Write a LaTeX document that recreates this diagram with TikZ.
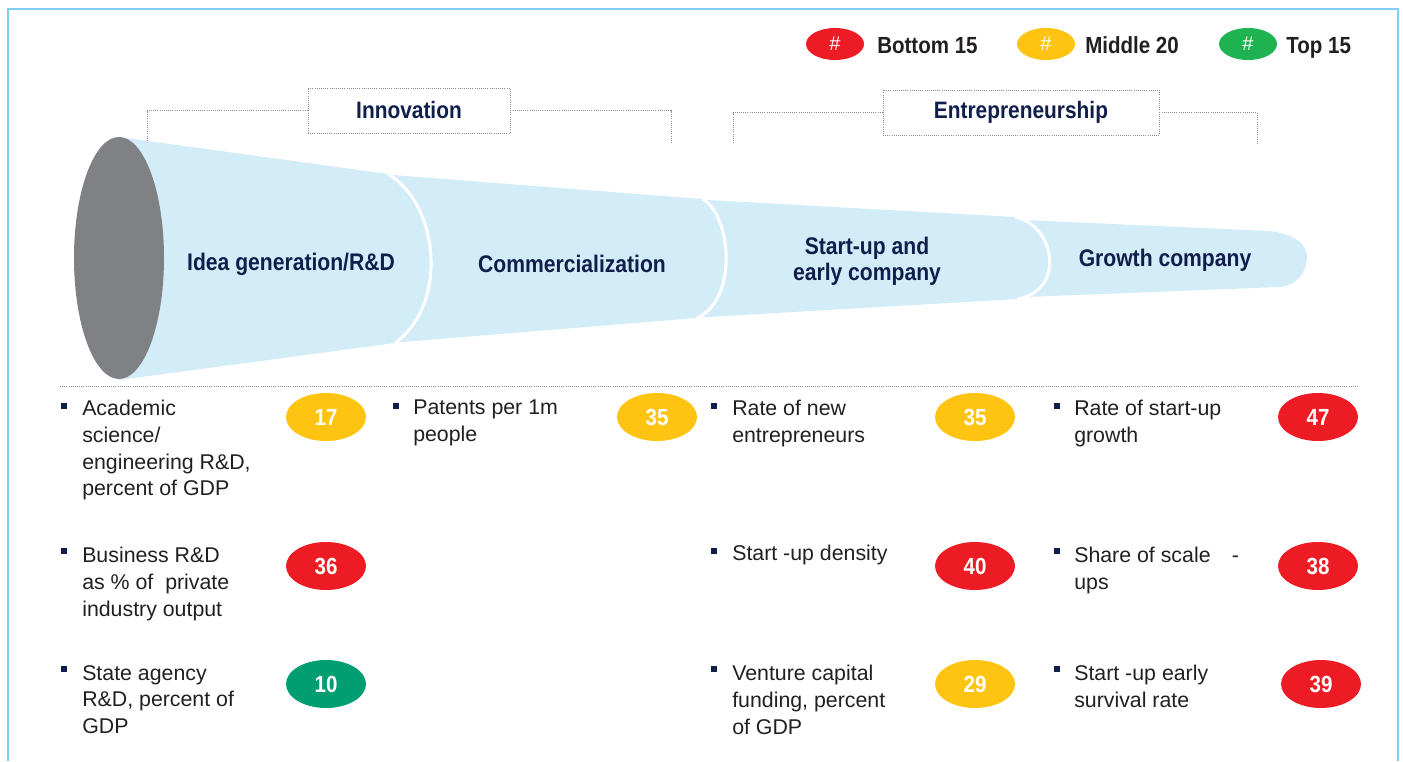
\documentclass[tikz,border=0pt]{standalone}
\usepackage{fontspec}
\setmainfont{Liberation Sans}
\newfontfamily\headfont[FakeStretch=0.88]{Liberation Sans}
\usetikzlibrary{shapes.geometric}

\definecolor{navy}{RGB}{16,30,75}
\definecolor{bodygray}{RGB}{35,31,32}
\definecolor{funnelblue}{RGB}{210,236,248}
\definecolor{framblue}{RGB}{128,207,240}
\definecolor{capgray}{RGB}{128,129,133}
\definecolor{rankred}{RGB}{237,28,36}
\definecolor{rankyellow}{RGB}{255,196,18}
\definecolor{rankgreen}{RGB}{30,178,80}
\definecolor{rankteal}{RGB}{0,158,112}

\tikzset{
  funnel/.style={fill=funnelblue},
  seam/.style={draw=white, line width=2.25pt},
  bracket/.style={draw=black!45, densely dotted, line width=0.6pt},
  headbox/.style={bracket, minimum height=33.75pt, inner sep=0pt, text=navy,
    font=\headfont\bfseries\fontsize{17.8}{20}\selectfont},
  stage/.style={inner sep=0pt, align=center, text=navy,
    font=\headfont\bfseries\fontsize{18}{19.5}\selectfont},
  item/.style={anchor=north west, inner sep=0pt, align=left, text=bodygray,
    font=\fontsize{16}{20}\selectfont},
  bullet/.style={fill=navy, minimum size=5pt, inner sep=0pt},
  rank/.style={ellipse, minimum width=60pt, minimum height=36pt, inner sep=0pt,
    text=white, font=\headfont\bfseries\fontsize{17.5}{20}\selectfont},
  key/.style={ellipse, minimum width=43.5pt, minimum height=24pt, inner sep=0pt,
    text=white, font=\fontsize{15}{18}\selectfont},
  keytext/.style={anchor=base west, inner sep=0pt, text=bodygray,
    font=\headfont\bfseries\fontsize{17.5}{20}\selectfont}
}

\begin{document}
\begin{tikzpicture}[x=0.75pt,y=0.75pt,yscale=-1,xscale=1]
\useasboundingbox (0,0) rectangle (1403,761);

%Frame
\draw [draw=framblue, line width=1.5pt] (8,761) -- (8,9) -- (1398,9) -- (1398,761);

%Legend
\node [key, fill=rankred] (kred) at (835,44) {\#};
\node [keytext] (tred) at (877,53) {Bottom 15};
\node [key, fill=rankyellow] (kyel) at (1046,44) {\#};
\node [keytext] (tyel) at (1085,53) {Middle 20};
\node [key, fill=rankgreen] (kgrn) at (1248,44) {\#};
\node [keytext] (tgrn) at (1286,53) {Top 15};

%Brackets
\node [headbox, minimum width=151.5pt] (innov) at (409,110.5) {Innovation};
\draw [bracket] (innov.west) -- (147,110.5) -- (147,140);
\draw [bracket] (innov.east) -- (671,110.5) -- (671,143);
\node [headbox, minimum width=207pt] (entre) at (1021,112.5) {Entrepreneurship};
\draw [bracket] (entre.west) -- (733,112.5) -- (733,143);
\draw [bracket] (entre.east) -- (1257,112.5) -- (1257,143);

%Funnel segments, back to front
\fill [funnel] (1000,219) -- (1270,231) .. controls (1296,234) and (1308,246) .. (1307,258) .. controls (1306,272) and (1298,285) .. (1280,287) -- (1000,298) -- cycle;
\fill [funnel] (690,199) -- (1015,217) .. controls (1055,225) and (1066,290) .. (1018,299) -- (690,318) -- cycle;
\fill [funnel] (380,174) -- (702,199) .. controls (730,212) and (740,298) .. (697,318) -- (390,343) -- cycle;
\fill [funnel] (119,137) -- (388,174) .. controls (440,205) and (448,305) .. (395,343) -- (119,380) -- cycle;
\draw [seam] (1015,217) .. controls (1055,225) and (1066,290) .. (1018,299);
\draw [seam] (702,199) .. controls (730,212) and (740,298) .. (697,318);
\draw [seam] (388,174) .. controls (440,205) and (448,305) .. (395,343);
%Shape: Ellipse
\fill [capgray] (119,258) ellipse [x radius=45, y radius=121];

% Text Node
\node [stage] (idea) at (291,264) {Idea generation/R\&D};
\node [stage] (comm) at (572,264) {Commercialization};
\node [stage] (start) at (867,261) {Start-up and\\early company};
\node [stage] (grow) at (1165,260) {Growth company};

%Separator
\draw [bracket] (60,386) -- (1358,386);

%Column 1
\node [bullet] (b11) at (64,406) {};
\node [item] (i11) at (82,400) {Academic\\science/\\engineering R\&D,\\percent of GDP};
\node [rank, fill=rankyellow] (r11) at (326,417) {17};
\node [bullet] (b12) at (64,551) {};
\node [item] (i12) at (82,547) {Business R\&D\\as \% of\ \ private\\industry output};
\node [rank, fill=rankred] (r12) at (326,566) {36};
\node [bullet] (b13) at (64,669) {};
\node [item] (i13) at (82,665) {State agency\\R\&D, percent of\\GDP};
\node [rank, fill=rankteal] (r13) at (326,684) {10};

%Column 2
\node [bullet] (b21) at (396,406) {};
\node [item] (i21) at (413,400) {Patents per 1m\\people};
\node [rank, fill=rankyellow] (r21) at (657,417) {35};

%Column 3
\node [bullet] (b31) at (714,406) {};
\node [item] (i31) at (732,400) {Rate of new\\entrepreneurs};
\node [rank, fill=rankyellow] (r31) at (975,417) {35};
\node [bullet] (b32) at (714,551) {};
\node [item] (i32) at (732,545) {Start -up density};
\node [rank, fill=rankred] (r32) at (975,566) {40};
\node [bullet] (b33) at (714,669) {};
\node [item] (i33) at (732,665) {Venture capital\\funding, percent\\of GDP};
\node [rank, fill=rankyellow] (r33) at (975,684) {29};

%Column 4
\node [bullet] (b41) at (1057,406) {};
\node [item] (i41) at (1074,400) {Rate of start-up\\growth};
\node [rank, fill=rankred] (r41) at (1318,417) {47};
\node [bullet] (b42) at (1057,551) {};
\node [item] (i42) at (1074,547) {Share of scale\quad-\\ups};
\node [rank, fill=rankred] (r42) at (1318,566) {38};
\node [bullet] (b43) at (1057,669) {};
\node [item] (i43) at (1074,665) {Start -up early\\survival rate};
\node [rank, fill=rankred] (r43) at (1321,684) {39};

\end{tikzpicture}
\end{document}
